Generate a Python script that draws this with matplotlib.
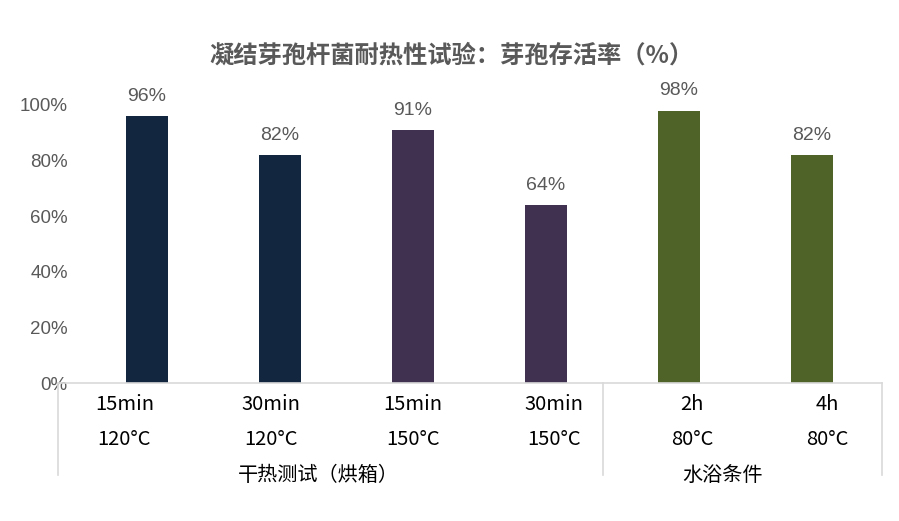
import matplotlib
matplotlib.use("Agg")
from matplotlib import pyplot as plt
from matplotlib.ticker import PercentFormatter
import matplotlib.transforms as mtrans

plt.rcParams['font.family'] = ['Noto Sans CJK SC', 'DejaVu Sans']

# data
times = ["15min", "30min", "15min", "30min", "2h", "4h"]
temps = ["120°C", "120°C", "150°C", "150°C", "80°C", "80°C"]
survival = [96, 82, 91, 64, 98, 82]
groups = ["干热测试（烘箱）", "水浴条件"]
bar_colors = ["#132640", "#132640", "#403151", "#403151", "#4F6228", "#4F6228"]

# layout tweaks (excel-ish offsets of the category labels)
label_shift = [-0.17, -0.07, 0.0, 0.06, 0.10, 0.12]
group_x = [1.29, 4.33]
sep_x = [-0.67, 3.43, 5.53]

fig = plt.figure(figsize=(8.99, 5.21), dpi=100)
ax = fig.add_axes([58 / 899, (521 - 383) / 521, (882 - 58) / 899, (383 - 105) / 521])

x = list(range(len(survival)))
ax.bar(x, survival, width=0.316, color=bar_colors, zorder=2)

for xi, v in zip(x, survival):
    ax.text(xi, v + 4, "%d%%" % v, ha="center", va="bottom", fontsize=14,
            color="#595959", family=["Liberation Sans", "DejaVu Sans"])

ax.set_xlim(sep_x[0], sep_x[-1])
ax.set_ylim(0, 100)
ax.set_yticks(range(0, 101, 20))
ax.yaxis.set_major_formatter(PercentFormatter(decimals=0))
for lab in ax.get_yticklabels():
    lab.set_family(["Liberation Sans", "DejaVu Sans"])
ax.tick_params(axis="y", length=0, labelsize=13.5, labelcolor="#595959", pad=-7)
ax.set_xticks([])

for s in ("top", "right", "left"):
    ax.spines[s].set_visible(False)
ax.spines["bottom"].set_color("#D9D9D9")
ax.spines["bottom"].set_linewidth(1.2)

trans = mtrans.blended_transform_factory(ax.transData, ax.transAxes)
for i in range(len(times)):
    ax.text(x[i] + label_shift[i], -0.079, times[i], transform=trans, ha="center",
            va="center", fontsize=14.5, color="black")
    ax.text(x[i] + label_shift[i], -0.205, temps[i], transform=trans, ha="center",
            va="center", fontsize=14.5, color="black")
for gx, g in zip(group_x, groups):
    ax.text(gx, -0.331, g, transform=trans, ha="center", va="center",
            fontsize=14.5, color="black")
for sx in sep_x:
    ax.plot([sx, sx], [0, -0.331], transform=trans, color="#D9D9D9", lw=1.2,
            clip_on=False)

fig.text(0.502, 0.893, "凝结芽孢杆菌耐热性试验：芽孢存活率（%）", ha="center",
         va="center", fontsize=17.5, fontweight="bold", color="#595959")

fig.savefig("out.png", dpi=100)
